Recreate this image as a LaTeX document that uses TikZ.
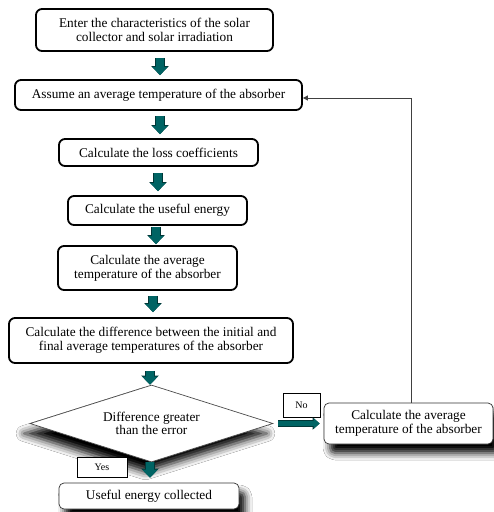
\documentclass[tikz,border=0pt]{standalone}
\usepackage{fontspec}
\setmainfont{Liberation Serif}
\newfontfamily\tnr{Liberation Serif}
\usetikzlibrary{arrows.meta,shapes.geometric,shadows.blur,calc}
\definecolor{tealfill}{RGB}{0,100,100}
\definecolor{tealedge}{RGB}{0,55,55}
\begin{document}
\begin{tikzpicture}[x=1pt,y=-1pt,
  every node/.style={font=\tnr\fontsize{13.3}{13.6}\selectfont, align=center, inner sep=0pt},
  thickbox/.style={draw=black, line width=1.8pt, rounded corners=6pt, fill=white},
  thinbox/.style={draw=black!80, line width=0.7pt, rounded corners=5pt, fill=white,
     blur shadow={shadow xshift=6pt, shadow yshift=-9pt, shadow blur radius=7pt, shadow opacity=100}},
  lblbox/.style={draw=black, line width=0.7pt, fill=white, font=\tnr\fontsize{10}{12}\selectfont},
  blk/.style={line width=8pt, tealfill, -{Triangle[width=15pt,length=8pt]},
     preaction={draw=tealedge, line width=9.4pt, -{Triangle[width=17pt,length=9pt]}}},
  blkthin/.style={line width=5.5pt, tealfill, -{Triangle[width=10pt,length=6pt]},
     preaction={draw=tealedge, line width=6.8pt, -{Triangle[width=12pt,length=7pt]}}},
  fb/.style={draw=black!75, line width=0.8pt, -{Triangle[width=5pt,length=5pt]}}
]
\useasboundingbox[fill=white] (0,0) rectangle (494,512);

\coordinate (x160) at (160,0);
\coordinate (x158) at (158,0);
\coordinate (x156) at (156,0);
\coordinate (x153) at (153,0);
\coordinate (x150) at (150,0);
\coordinate (x411) at (411,0);

\node[thickbox, minimum width=237pt, minimum height=42pt] (b1) at (154.5,30)
  {Enter the characteristics of the solar\\collector and solar irradiation};
\node[thickbox, minimum width=287pt, minimum height=30pt] (b2) at (158.5,95)
  {Assume an average temperature of the absorber};
\node[thickbox, minimum width=199pt, minimum height=27pt] (b3) at (158.5,152.5)
  {Calculate the loss coefficients};
\node[thickbox, minimum width=179pt, minimum height=29pt] (b4) at (157.5,210.5)
  {Calculate the useful energy};
\node[thickbox, minimum width=179pt, minimum height=44pt] (b5) at (147.5,268)
  {Calculate the average\\temperature of the absorber};
\node[thickbox, minimum width=284pt, minimum height=45pt] (b6) at (151,340.5)
  {Calculate the difference between the initial and\\final average temperatures of the absorber};
\node[diamond, draw=black!70, line width=0.7pt, fill=white, aspect=3.1,
  minimum width=243pt, minimum height=77pt,
  blur shadow={shadow xshift=-6pt, shadow yshift=-10pt, shadow blur radius=8pt, shadow opacity=100}]
  (d) at (151.5,423.5) {Difference greater\\than the error};
\node[thinbox, minimum width=169pt, minimum height=41pt] (r) at (408.5,423.5)
  {Calculate the average\\temperature of the absorber};
\node[thinbox, minimum width=180pt, minimum height=26pt] (fin) at (149,496)
  {Useful energy collected};
\node[lblbox, minimum width=37pt, minimum height=24pt] (no) at (301.5,405) {No};
\node[lblbox, minimum width=50pt, minimum height=20pt] (yes) at (102,467) {Yes};

\draw[blk, shorten <=6pt, shorten >=4pt] (b1.south -| x160) -- (b2.north -| x160);
\draw[blk, shorten <=5pt, shorten >=4pt] (b2.south -| x160) -- (b3.north -| x160);
\draw[blk, shorten <=6pt, shorten >=4pt] (b3.south -| x158) -- (b4.north -| x158);
\draw[blk, shorten <=1pt, shorten >=1pt] (b4.south -| x156) -- (b5.north -| x156);
\draw[blk, shorten <=5pt, shorten >=5pt] (b5.south -| x153) -- (b6.north -| x153);
\draw[blk, shorten <=7pt, shorten >=0pt] (b6.south -| x150) -- (d.north -| x150);
\draw[blk, shorten <=0pt, shorten >=5pt] (d.south -| x150) -- (fin.north -| x150);
\draw[blkthin, shorten <=5pt, shorten >=4pt] (d.east) -- (r.west);
\draw[fb] (r.north -| x411) |- ($(b2.east)+(0,3)$);
\end{tikzpicture}
\end{document}
